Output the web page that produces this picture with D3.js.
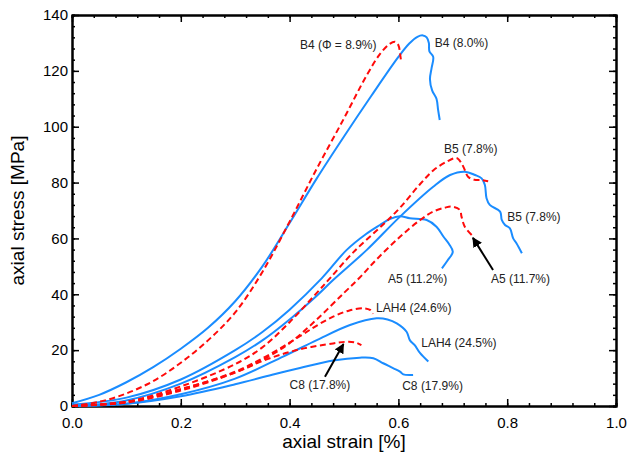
<!DOCTYPE html>
<html lang="en">
<head>
<meta charset="UTF-8">
<title>axial stress vs axial strain</title>
<script src="https://d3js.org/d3.v7.min.js"></script>
<style>
  body { margin: 0; background: #fff; }
  text { font-family: Arial, "Liberation Sans", sans-serif; }
</style>
</head>
<body>
<div id="my_dataviz"></div>
<script>

// strain [%], stress [MPa]
var b4Blue = [[0,1],[0.05,4],[0.1,8.5],[0.15,14],[0.2,20.5],[0.25,28],[0.3,37.5],[0.35,50],[0.4,65.5],[0.45,81.5],[0.5,96.5],[0.55,111],[0.6,125],[0.62,129.8],[0.635,132.2],[0.645,132.7],[0.652,132],[0.656,130],[0.657,127],[0.664,125],[0.661,121],[0.658,117],[0.662,113],[0.67,110],[0.673,106],[0.676,102.4]];
var b4Red = [[0,0],[0.05,1.5],[0.1,4.5],[0.15,9],[0.2,15.5],[0.25,23.5],[0.3,33.5],[0.35,48],[0.4,66],[0.45,85],[0.5,103],[0.542,118.5],[0.566,126],[0.583,129.5],[0.594,130.4],[0.6,129.2],[0.603,126.3],[0.605,123.3]];
var b5Blue = [[0,0],[0.1,2],[0.2,8],[0.3,17.5],[0.35,23.5],[0.4,31],[0.45,39.5],[0.48,45.1],[0.542,55.9],[0.603,67.8],[0.664,78.5],[0.695,82.7],[0.722,83.9],[0.741,82.7],[0.753,81.5],[0.759,79.1],[0.762,74.4],[0.768,72],[0.787,69.6],[0.79,66.6],[0.796,64.8],[0.805,63.6],[0.811,60],[0.817,58.3],[0.827,54.7]];
var b5Red = [[0,0],[0.1,1.5],[0.2,7],[0.3,15],[0.35,21],[0.4,30],[0.45,40.5],[0.474,45.7],[0.517,55],[0.572,65],[0.603,71],[0.64,79.5],[0.665,84.5],[0.689,87.5],[0.707,88.8],[0.716,86.9],[0.722,84.5],[0.728,82.1],[0.74,81],[0.753,80.9],[0.765,80.5]];
var a5Blue = [[0,0.5],[0.1,3],[0.2,9.5],[0.3,20],[0.35,26.5],[0.4,34.5],[0.459,45.7],[0.505,55.9],[0.54,61.5],[0.566,64.8],[0.585,67],[0.603,67.9],[0.621,67.2],[0.652,66.6],[0.67,64.2],[0.683,60.6],[0.693,58],[0.7,55.2],[0.69,52],[0.68,49.3]];
var a5Red = [[0,0],[0.1,1.2],[0.2,5.5],[0.3,12],[0.35,16.5],[0.4,22.5],[0.45,31],[0.5,40.5],[0.529,46],[0.56,52.5],[0.603,60.6],[0.64,66.6],[0.664,69.6],[0.685,71],[0.698,71.4],[0.713,70.2],[0.716,67.8],[0.722,64.2],[0.735,61.2]];
var lah4Blue = [[0,0],[0.1,0.8],[0.2,4.2],[0.3,9.8],[0.388,17.7],[0.45,23.6],[0.511,29],[0.56,31.4],[0.58,31],[0.597,29.6],[0.615,26.6],[0.621,23.6],[0.63,21.8],[0.64,18.9],[0.655,15.9]];
var lah4Red = [[0,0],[0.1,1.5],[0.2,6],[0.3,12.3],[0.358,17.9],[0.419,25],[0.45,28.8],[0.48,32],[0.51,34.2],[0.536,35],[0.548,34.4],[0.553,33]];
var c8Blue = [[0,0],[0.1,0.8],[0.2,3.5],[0.3,7.8],[0.368,11.2],[0.419,13.6],[0.48,16.3],[0.529,17.3],[0.554,17.1],[0.572,15.3],[0.591,13.5],[0.603,12.3],[0.609,11.3],[0.627,11.1]];
var c8Red = [[0,0],[0.1,1.5],[0.2,6],[0.3,12],[0.358,16.7],[0.419,20.3],[0.48,22.4],[0.505,23],[0.52,22.8],[0.532,21.8]];

var blueCurves = [b4Blue, b5Blue, a5Blue, lah4Blue, c8Blue];
var redCurves = [b4Red, b5Red, a5Red, lah4Red, c8Red];

// annotation texts and where they sit (strain, stress)
var labelTexts = ["B4 (\u03A6 = 8.9%)", "B4 (8.0%)", "B5 (7.8%)", "B5 (7.8%)", "A5 (11.2%)", "A5 (11.7%)", "LAH4 (24.6%)", "LAH4 (24.5%)", "C8 (17.8%)", "C8 (17.9%)"];
var labelStrain = [0.419, 0.667, 0.684, 0.8, 0.581, 0.77, 0.559, 0.642, 0.4, 0.607];
var labelStress = [129.3, 130, 92, 67.7, 45.5, 45.5, 35.1, 22.6, 7.5, 7.2];

// arrows: [tail strain, tail stress, tip strain, tip stress]
var arrows = [[0.774, 48.7, 0.737, 60.2], [0.465, 10.5, 0.499, 22.2]];

var xTicks = [0, 0.2, 0.4, 0.6, 0.8, 1.0];
var yTicks = [0, 20, 40, 60, 80, 100, 120, 140];

var margin = {top: 15, right: 15, bottom: 55, left: 72},
    width = 631 - margin.left - margin.right,
    height = 461 - margin.top - margin.bottom;

var svg = d3.select("#my_dataviz")
  .append("svg")
    .attr("width", 631)
    .attr("height", 461)
  .append("g")
    .attr("transform", "translate(" + margin.left + "," + margin.top + ")");

var x = d3.scaleLinear().domain([0, 1]).range([0, width]);
var y = d3.scaleLinear().domain([0, 140]).range([height, 0]);

var minorX = d3.range(0, 1.0001, 0.04);
var minorY = d3.range(0, 140.001, 4);

// minor ticks on all four sides, pointing in
svg.append("g").attr("transform", "translate(0," + height + ")")
  .call(d3.axisBottom(x).tickValues(minorX).tickSize(-3).tickFormat(""));
svg.append("g")
  .call(d3.axisTop(x).tickValues(minorX).tickSize(-3).tickFormat(""));
svg.append("g")
  .call(d3.axisLeft(y).tickValues(minorY).tickSize(-3).tickFormat(""));
svg.append("g").attr("transform", "translate(" + width + ",0)")
  .call(d3.axisRight(y).tickValues(minorY).tickSize(-3).tickFormat(""));

// major ticks
svg.append("g").attr("transform", "translate(0," + height + ")")
  .call(d3.axisBottom(x).tickValues(xTicks).tickSize(-7).tickSizeOuter(0).tickPadding(11).tickFormat(d3.format(".1f")));
svg.append("g")
  .call(d3.axisTop(x).tickValues(xTicks).tickSize(-7).tickSizeOuter(0).tickFormat(""));
svg.append("g")
  .call(d3.axisLeft(y).tickValues(yTicks).tickSize(-7).tickSizeOuter(0).tickPadding(4));
svg.append("g").attr("transform", "translate(" + width + ",0)")
  .call(d3.axisRight(y).tickValues(yTicks).tickSize(-7).tickSizeOuter(0).tickFormat(""));

svg.selectAll(".tick line").attr("stroke", "#000").attr("stroke-width", 1.5);
svg.selectAll(".domain").attr("stroke", "#000").attr("stroke-width", 2);
svg.selectAll(".tick text").attr("font-size", 15).attr("fill", "#000")
  .style("font-family", "Arial, 'Liberation Sans', sans-serif");

// axis titles
svg.append("text")
  .attr("x", width / 2)
  .attr("y", height + 42)
  .attr("text-anchor", "middle")
  .attr("font-size", 19)
  .text("axial strain [%]");

svg.append("text")
  .attr("transform", "rotate(-90)")
  .attr("x", -height / 2)
  .attr("y", -48)
  .attr("text-anchor", "middle")
  .attr("font-size", 19)
  .text("axial stress [MPa]");

// curves
var line = d3.line()
  .x(function(d) { return x(d[0]); })
  .y(function(d) { return y(d[1]); })
  .curve(d3.curveCatmullRom.alpha(0.5));

svg.append("g").selectAll("path")
  .data(blueCurves)
  .enter().append("path")
    .attr("d", line)
    .attr("fill", "none")
    .attr("stroke", "#1a8cff")
    .attr("stroke-width", 2);

svg.append("g").selectAll("path")
  .data(redCurves)
  .enter().append("path")
    .attr("d", line)
    .attr("fill", "none")
    .attr("stroke", "#ff0a0a")
    .attr("stroke-width", 2)
    .attr("stroke-dasharray", "6,3.5");

// labels
svg.append("g").selectAll("text")
  .data(labelTexts)
  .enter().append("text")
    .attr("x", function(d, i) { return x(labelStrain[i]); })
    .attr("y", function(d, i) { return y(labelStress[i]); })
    .attr("dy", "0.35em")
    .attr("font-size", 12)
    .attr("fill", "#222")
    .text(function(d) { return d; });

// arrows
svg.append("defs").append("marker")
    .attr("id", "head")
    .attr("viewBox", "0 0 10 10")
    .attr("refX", 9)
    .attr("refY", 5)
    .attr("markerWidth", 5)
    .attr("markerHeight", 5)
    .attr("orient", "auto")
  .append("path")
    .attr("d", "M0,0 L10,5 L0,10 Z")
    .attr("fill", "#000");

svg.append("g").selectAll("line")
  .data(arrows)
  .enter().append("line")
    .attr("x1", function(d) { return x(d[0]); })
    .attr("y1", function(d) { return y(d[1]); })
    .attr("x2", function(d) { return x(d[2]); })
    .attr("y2", function(d) { return y(d[3]); })
    .attr("stroke", "#000")
    .attr("stroke-width", 2)
    .attr("marker-end", "url(#head)");

</script>
</body>
</html>
